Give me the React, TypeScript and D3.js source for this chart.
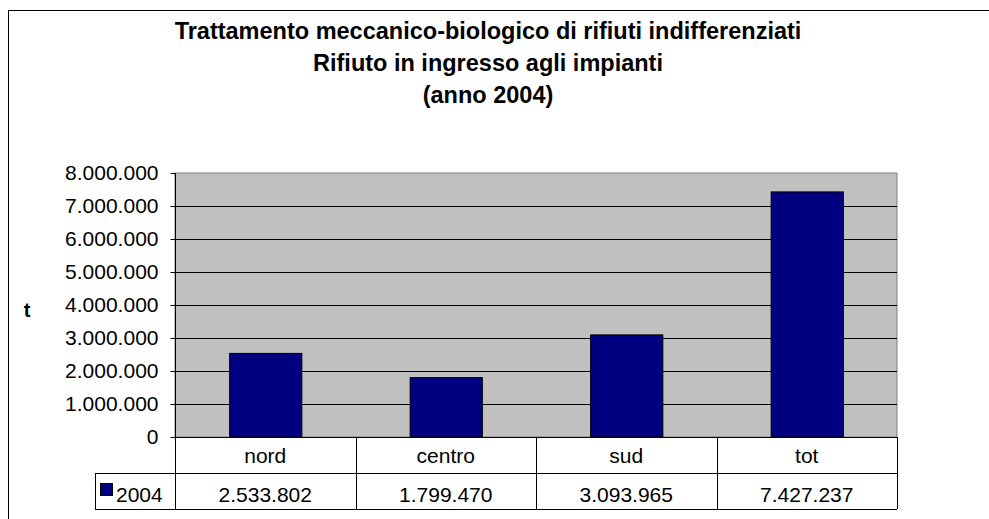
import React, { useEffect, useRef } from "react";
import * as d3 from "d3";

// chart data
const categories = ["nord", "centro", "sud", "tot"];
const values2004 = [2533802, 1799470, 3093965, 7427237];
const seriesName = "2004";
const titleLines = [
  "Trattamento meccanico-biologico di rifiuti indifferenziati",
  "Rifiuto in ingresso agli impianti",
  "(anno 2004)",
];
const yAxisTitle = "t";
const yMax = 8000000;

const itLocale = d3.formatLocale({
  decimal: ",",
  thousands: ".",
  grouping: [3],
  currency: ["", " €"],
});
const fmt = itLocale.format(",d");

const App = () => {
  const svgRef = useRef<SVGSVGElement | null>(null);

  useEffect(() => {
    if (!svgRef.current) return;

    const width = 989;
    const height = 519;
    const plot = { left: 175, right: 897, top: 173, bottom: 437 };
    const rowH = 36;
    const font = "'Liberation Sans', Arial, sans-serif";
    const fontSize = "21px";

    const svg = d3.select(svgRef.current);
    svg.selectAll("*").remove();
    svg.attr("width", width).attr("height", height);

    // outer frame (runs off the bottom/right edge)
    svg
      .append("rect")
      .attr("x", 8.5)
      .attr("y", 10.5)
      .attr("width", 1000)
      .attr("height", 600)
      .attr("fill", "#fff")
      .attr("stroke", "#000")
      .attr("stroke-width", 1);

    // title
    svg
      .append("g")
      .selectAll("text")
      .data(titleLines)
      .enter()
      .append("text")
      .attr("x", 488)
      .attr("y", (d, i) => 39 + i * 32)
      .attr("text-anchor", "middle")
      .style("font-family", font)
      .style("font-weight", "bold")
      .style("font-size", "23.5px")
      .text((d) => d);

    const x = d3
      .scaleBand()
      .domain(categories)
      .range([plot.left, plot.right])
      .paddingInner(0.6)
      .paddingOuter(0.3);

    const y = d3.scaleLinear().domain([0, yMax]).range([plot.bottom, plot.top]);
    const step = x.step();

    // plot background
    svg
      .append("rect")
      .attr("x", plot.left)
      .attr("y", plot.top)
      .attr("width", plot.right - plot.left)
      .attr("height", plot.bottom - plot.top)
      .attr("fill", "#c0c0c0")
      .attr("stroke", "#808080");

    // gridlines
    svg
      .append("g")
      .selectAll("line")
      .data(y.ticks(8).filter((t) => t > 0 && t < yMax))
      .enter()
      .append("line")
      .attr("x1", plot.left)
      .attr("x2", plot.right)
      .attr("y1", (d) => Math.round(y(d)) + 0.5)
      .attr("y2", (d) => Math.round(y(d)) + 0.5)
      .attr("stroke", "#000");

    // bars
    svg
      .append("g")
      .selectAll("rect")
      .data(values2004)
      .enter()
      .append("rect")
      .attr("x", (d, i) => (x(categories[i]) as number) + 0.5)
      .attr("y", (d) => y(d))
      .attr("width", x.bandwidth())
      .attr("height", (d) => plot.bottom - y(d))
      .attr("fill", "#000080")
      .attr("stroke", "#000");

    // y axis
    const yAxis = svg
      .append("g")
      .attr("transform", `translate(${plot.left + 0.5},0)`)
      .call(
        d3
          .axisLeft(y)
          .ticks(8)
          .tickSize(5)
          .tickPadding(12)
          .tickFormat((d) => fmt(d as number))
      );
    yAxis.select(".domain").remove();
    yAxis.selectAll(".tick line").attr("stroke", "#000");
    yAxis
      .selectAll(".tick text")
      .attr("fill", "#000")
      .style("font-family", font)
      .style("font-size", fontSize);
    svg
      .append("line")
      .attr("x1", plot.left + 0.5)
      .attr("x2", plot.left + 0.5)
      .attr("y1", plot.top)
      .attr("y2", plot.bottom + rowH * 2)
      .attr("stroke", "#000");

    svg
      .append("text")
      .attr("x", 27)
      .attr("y", 317)
      .attr("text-anchor", "middle")
      .style("font-family", font)
      .style("font-weight", "bold")
      .style("font-size", "20px")
      .text(yAxisTitle);

    // data table
    const table = svg.append("g").attr("stroke", "#000").attr("fill", "none");
    const r1 = plot.bottom;
    const r2 = plot.bottom + rowH;
    const r3 = plot.bottom + rowH * 2;
    const legendLeft = 95;

    table
      .append("line")
      .attr("x1", plot.left)
      .attr("x2", plot.right)
      .attr("y1", r1 + 0.5)
      .attr("y2", r1 + 0.5);
    table
      .append("line")
      .attr("x1", legendLeft)
      .attr("x2", plot.right)
      .attr("y1", r2 + 0.5)
      .attr("y2", r2 + 0.5);
    table
      .append("line")
      .attr("x1", legendLeft)
      .attr("x2", plot.right)
      .attr("y1", r3 + 0.5)
      .attr("y2", r3 + 0.5);
    table
      .append("line")
      .attr("x1", legendLeft + 0.5)
      .attr("x2", legendLeft + 0.5)
      .attr("y1", r2)
      .attr("y2", r3);
    table
      .selectAll(".col")
      .data(categories)
      .enter()
      .append("line")
      .attr("x1", (d, i) => Math.round(plot.left + step * (i + 1)) + 0.5)
      .attr("x2", (d, i) => Math.round(plot.left + step * (i + 1)) + 0.5)
      .attr("y1", r1)
      .attr("y2", r3);

    const colCenter = (i: number) => plot.left + step * (i + 0.5);

    svg
      .append("g")
      .selectAll("text")
      .data(categories)
      .enter()
      .append("text")
      .attr("x", (d, i) => colCenter(i))
      .attr("y", r1 + 26)
      .attr("text-anchor", "middle")
      .style("font-family", font)
      .style("font-size", fontSize)
      .text((d) => d);

    svg
      .append("g")
      .selectAll("text")
      .data(values2004)
      .enter()
      .append("text")
      .attr("x", (d, i) => colCenter(i))
      .attr("y", r2 + 29)
      .attr("text-anchor", "middle")
      .style("font-family", font)
      .style("font-size", fontSize)
      .text((d) => fmt(d));

    // legend key
    svg
      .append("rect")
      .attr("x", 100.5)
      .attr("y", 483.5)
      .attr("width", 12)
      .attr("height", 12)
      .attr("fill", "#000080")
      .attr("stroke", "#000");
    svg
      .append("text")
      .attr("x", 116)
      .attr("y", r2 + 29)
      .style("font-family", font)
      .style("font-size", fontSize)
      .text(seriesName);
  }, []);

  return (
    <svg
      ref={svgRef}
      style={{ position: "absolute", left: 0, top: 0, display: "block" }}
    ></svg>
  );
};

export default App;
